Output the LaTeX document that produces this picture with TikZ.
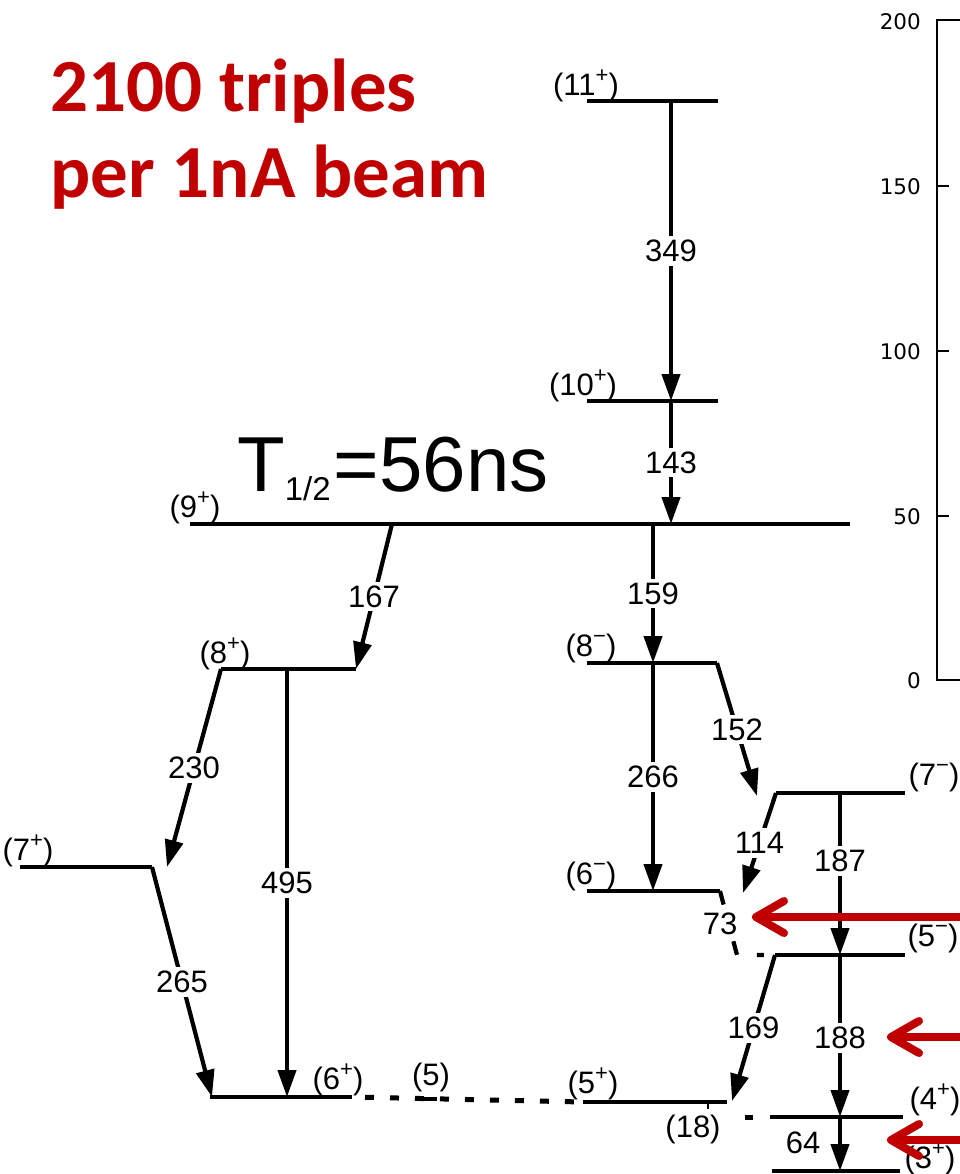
\documentclass[tikz,border=0pt]{standalone}
\usepackage{fontspec}
\setmainfont{Liberation Sans}
\newfontfamily\redfont{Carlito}
\newfontfamily\axfont{DejaVu Sans}
\usetikzlibrary{arrows.meta}
\definecolor{cred}{RGB}{192,0,0}
\newcommand\spinsup[1]{\raisebox{0.40em}{\fontsize{22}{22}\selectfont #1}}
\tikzset{
  level/.style={line width=4.8pt},
  trans/.style={line width=4.2pt,-{Triangle[length=27pt,width=18pt]}},
  tlab/.style={fill=white,inner sep=4pt,font=\fontsize{31}{31}\selectfont},
  spin/.style={inner sep=0pt,font=\fontsize{31}{31}\selectfont},
  dotlev/.style={line width=5pt,dash pattern=on 9pt off 16pt,dash phase=12pt},
  axisline/.style={line width=1.6pt},
  axlab/.style={anchor=east,inner sep=0pt,font=\axfont\fontsize{21.5}{21.5}\selectfont},
  redarr/.style={draw=cred,line width=8pt,-{Straight Barb[length=28pt,width=32pt,round]}},
}
\begin{document}
\begin{tikzpicture}[x=1pt,y=-1pt]
\useasboundingbox (0,0) rectangle (960,1174);

% titles
\node[anchor=base west,inner sep=0pt,text=cred,font=\redfont\bfseries\fontsize{75}{75}\selectfont] (title1) at (50,112) {2100 triples};
\node[anchor=base west,inner sep=0pt,text=cred,font=\redfont\bfseries\fontsize{75}{75}\selectfont] (title2) at (50,198) {per 1nA beam};
\node[anchor=base west,inner sep=0pt,font=\fontsize{78}{78}\selectfont] (half) at (237,491) {T\raisebox{-9pt}{\fontsize{33}{33}\selectfont 1/2}\kern3pt=56ns};

% axis
\coordinate (axT) at (937,20); \coordinate (axTe) at (960,20);
\coordinate (axB) at (937,680); \coordinate (axBe) at (960,680);
\draw[axisline] (axTe) -- (axT) -- (axB) -- (axBe);
\foreach \yy/\nm in {186/a,351/b,516/c}{
  \coordinate (tk\nm) at (937,\yy); \coordinate (tke\nm) at (949,\yy);
  \draw[axisline] (tk\nm) -- (tke\nm);
}
\node[axlab] (ax200) at (921,22) {200};
\node[axlab] (ax150) at (921,187) {150};
\node[axlab] (ax100) at (921,352) {100};
\node[axlab] (ax50) at (921,517) {50};
\node[axlab] (ax0) at (921,681) {0};

% level end points
\coordinate (l11a) at (587,101); \coordinate (l11b) at (718,101);
\coordinate (l10a) at (587,401); \coordinate (l10b) at (718,401);
\coordinate (l9a) at (190,524);  \coordinate (l9b) at (850,524);
\coordinate (l8pa) at (221,669); \coordinate (l8pb) at (356,669);
\coordinate (l8ma) at (587,663); \coordinate (l8mb) at (717,663);
\coordinate (l7pa) at (20,867);  \coordinate (l7pb) at (152,867);
\coordinate (l7ma) at (776,793); \coordinate (l7mb) at (905,793);
\coordinate (l6ma) at (587,891); \coordinate (l6mb) at (720,891);
\coordinate (l5ma) at (775,955); \coordinate (l5mb) at (905,955);
\coordinate (l6pa) at (210,1097); \coordinate (l6pb) at (352,1097);
\coordinate (l5a) at (418,1099); \coordinate (l5b) at (437,1099);
\coordinate (l5pa) at (583,1102); \coordinate (l5pb) at (727,1102);
\coordinate (l4pa) at (770,1117); \coordinate (l4pb) at (903,1117);
\coordinate (l3pa) at (772,1171); \coordinate (l3pb) at (900,1171);
\coordinate (l4pd) at (733,1117);
\coordinate (tick18a) at (708,1102); \coordinate (tick18b) at (708,1109);

% levels
\foreach \lv in {l11,l10,l9,l8p,l8m,l7p,l7m,l6m,l5m,l6p,l5,l5p,l4p,l3p}{
  \draw[level] (\lv a) -- (\lv b);
}
\draw[dotlev] (l6pb) -- (l5pa);
\draw[line width=5pt,dash pattern=on 0pt off 12pt on 8pt off 30pt] (l4pd) -- (l4pa);
\draw[line width=2.5pt] (tick18a) -- (tick18b);

% spin labels
\node[spin] (s11) at (586,86) {(11\spinsup{+})};
\node[spin] (s10) at (583,386) {(10\spinsup{+})};
\node[spin] (s9) at (195,508) {(9\spinsup{+})};
\node[spin] (s8p) at (225,654) {(8\spinsup{+})};
\node[spin] (s8m) at (591,648) {(8\spinsup{−})};
\node[spin] (s7p) at (28,851) {(7\spinsup{+})};
\node[spin] (s7m) at (934,777) {(7\spinsup{−})};
\node[spin] (s6m) at (591,876) {(6\spinsup{−})};
\node[spin] (s5m) at (933,938) {(5\spinsup{−})};
\node[spin] (s6p) at (338,1080) {(6\spinsup{+})};
\node[spin] (s5) at (431,1077) {(5)};
\node[spin] (s5p) at (593,1084) {(5\spinsup{+})};
\node[spin] (s18) at (693,1129) {(18)};
\node[spin] (s4p) at (935,1100) {(4\spinsup{+})};
\node[spin] (s3p) at (930,1159) {(3\spinsup{+})};

% transitions
\coordinate (a349) at (671,101); \coordinate (b349) at (671,401);
\coordinate (b143) at (671,524);
\coordinate (a167) at (392,524);
\coordinate (a159) at (653,524); \coordinate (b159) at (653,663);
\coordinate (b230) at (167,867);
\coordinate (a495) at (287,669); \coordinate (b495) at (287,1097);
\coordinate (b265) at (212,1097);
\coordinate (b152) at (757,796);
\coordinate (b266) at (653,891);
\coordinate (b114) at (743,893);
\coordinate (a187) at (840,793); \coordinate (b187) at (840,955);
\coordinate (b188) at (840,1117);
\coordinate (b64) at (840,1171);
\coordinate (b169) at (732,1101);
\coordinate (m73) at (737,955);

\draw[trans] (a349) -- node[tlab] (t349) {349} (b349);
\draw[trans] (b349) -- node[tlab] (t143) {143} (b143);
\draw[trans] (a167) -- node[tlab] (t167) {167} (l8pb);
\draw[trans] (a159) -- node[tlab] (t159) {159} (b159);
\draw[trans] (l8pa) -- node[tlab] (t230) {230} (b230);
\draw[trans] (a495) -- node[tlab] (t495) {495} (b495);
\draw[trans] (l7pb) -- node[tlab] (t265) {265} (b265);
\draw[trans] (l8mb) -- node[tlab] (t152) {152} (b152);
\draw[trans] (b159) -- node[tlab] (t266) {266} (b266);
\draw[trans] (l7ma) -- node[tlab] (t114) {114} (b114);
\draw[trans] (a187) -- node[tlab,pos=0.42] (t187) {187} (b187);
\draw[trans] (b187) -- node[tlab,pos=0.51] (t188) {188} (b188);
\draw[trans] (l5ma) -- node[tlab] (t169) {169} (b169);
\draw[trans] (b188) -- (b64);
\node[font=\fontsize{31}{31}\selectfont,inner sep=0pt] (t64) at (803,1143) {64};
\draw[line width=4.2pt,dash pattern=on 14pt off 38pt on 14pt off 20pt on 7pt off 20pt] (l6mb) -- (m73) -- (l5ma);
\node[tlab,fill=none] (t73) at (720,924) {73};

% red arrows
\coordinate (r1s) at (960,917); \coordinate (r1e) at (752,917);
\coordinate (r2s) at (960,1037); \coordinate (r2e) at (887,1037);
\coordinate (r3s) at (960,1140); \coordinate (r3e) at (887,1140);
\draw[redarr] (r1s) -- (r1e);
\draw[redarr] (r2s) -- (r2e);
\draw[redarr] (r3s) -- (r3e);
\end{tikzpicture}
\end{document}
